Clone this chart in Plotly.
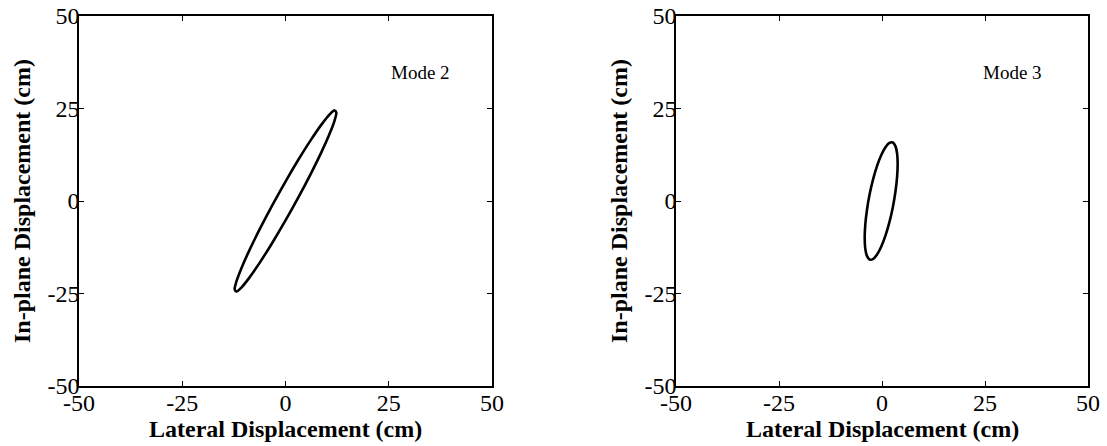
import plotly.graph_objects as go

# Mode 2 orbit, cm
mode2_x = [12.3, 11.88, 10.65, 8.70, 6.15, 3.18, 0.0, -3.18, -6.15, -8.70, -10.65, -11.88,
           -12.3, -11.88, -10.65, -8.70, -6.15, -3.18, 0.0, 3.18, 6.15, 8.70, 10.65, 11.88, 12.3]
mode2_y = [23.93, 24.48, 23.35, 20.64, 16.52, 11.27, 5.26, -1.11, -7.41, -13.20, -18.09, -21.75,
           -23.93, -24.48, -23.35, -20.64, -16.52, -11.27, -5.26, 1.11, 7.41, 13.20, 18.09, 21.75, 23.93]

# Mode 3 orbit, cm
mode3_x = [3.8, 3.66, 3.26, 2.63, 1.8, 0.84, -0.2, -1.24, -2.2, -3.03, -3.66, -4.06,
           -4.2, -4.06, -3.66, -3.03, -2.2, -1.24, -0.2, 0.84, 1.8, 2.63, 3.26, 3.66, 3.8]
mode3_y = [10.01, 12.86, 14.84, 15.81, 15.70, 14.53, 12.36, 9.35, 5.70, 1.66, -2.49, -6.47,
           -10.01, -12.86, -14.84, -15.81, -15.70, -14.53, -12.36, -9.35, -5.70, -1.66, 2.49, 6.47, 10.01]

tick_vals = [-50, -25, 0, 25, 50]
tick_text = ["-50", "-25", "0", "25", "50"]
mode_labels = ["Mode 2", "Mode 3"]
x_title = "Lateral Displacement (cm)"
y_title = "In-plane Displacement (cm)"

FONT = "Liberation Serif"
W, H = 1107, 446
MT, MB = 16, 60
LEFT_DOM = [79 / W, 492 / W]
RIGHT_DOM = [676 / W, 1088 / W]

fig = go.Figure()
fig.add_trace(go.Scatter(x=mode2_x, y=mode2_y, mode="lines", xaxis="x", yaxis="y",
                         line=dict(color="black", width=2.6, shape="spline"), showlegend=False))
fig.add_trace(go.Scatter(x=mode3_x, y=mode3_y, mode="lines", xaxis="x2", yaxis="y2",
                         line=dict(color="black", width=2.6, shape="spline"), showlegend=False))

axis_common = dict(range=[-50, 50], tickmode="array", tickvals=tick_vals, ticktext=tick_text,
                   ticks="inside", ticklen=5, tickwidth=1, tickcolor="black",
                   showline=True, linecolor="black", linewidth=1.5, mirror="ticks",
                   showgrid=False, zeroline=False, automargin=False,
                   tickfont=dict(family=FONT, size=24, color="black"))
xaxis_extra = dict(ticklabelstandoff=-6)
yaxis_extra = dict(ticklabelstandoff=-7)

title_font = dict(family=FONT, size=24, color="black")
ann_font = dict(family=FONT, size=19, color="black")

annotations = []
for dom in (LEFT_DOM, RIGHT_DOM):
    cx = (dom[0] + dom[1]) / 2
    annotations.append(dict(x=cx, y=-(429 - (H - MB)) / (H - MT - MB), xref="paper", yref="paper",
                            text="<b>" + x_title + "</b>", showarrow=False,
                            xanchor="center", yanchor="middle", font=title_font))
    annotations.append(dict(x=dom[0] - 57 / W, y=0.5, xref="paper", yref="paper",
                            text="<b>" + y_title + "</b>", showarrow=False, textangle=-90,
                            xanchor="center", yanchor="middle", font=title_font))

annotations.append(dict(x=25, y=34.6, xref="x", yref="y", text=mode_labels[0], showarrow=False,
                        xanchor="left", font=ann_font))
annotations.append(dict(x=24, y=34.6, xref="x2", yref="y2", text=mode_labels[1], showarrow=False,
                        xanchor="left", font=ann_font))

fig.update_layout(
    width=W, height=H,
    margin=dict(l=0, r=0, t=MT, b=MB),
    paper_bgcolor="white", plot_bgcolor="white",
    xaxis=dict(domain=LEFT_DOM, anchor="y", **axis_common, **xaxis_extra),
    yaxis=dict(domain=[0, 1], anchor="x", **axis_common, **yaxis_extra),
    xaxis2=dict(domain=RIGHT_DOM, anchor="y2", **axis_common, **xaxis_extra),
    yaxis2=dict(domain=[0, 1], anchor="x2", **axis_common, **yaxis_extra),
    annotations=annotations,
)

fig.write_html("out.html", config={"displayModeBar": False},
               post_script="document.body.style.margin='0';document.body.style.overflow='hidden';")
